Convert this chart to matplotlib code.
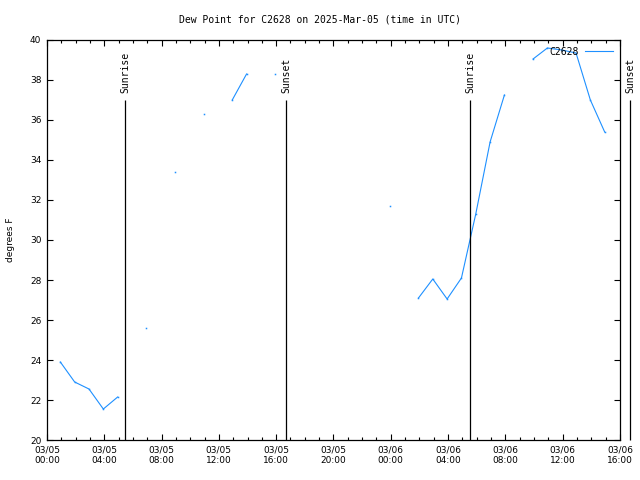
import numpy as np
import pandas as pd
import matplotlib
matplotlib.use("Agg")
import matplotlib.pyplot as plt
import matplotlib.dates as mdates
from matplotlib.lines import Line2D

# Hourly dew point observations (NaN = missing)
obs_times = [
    "2025-03-05 00:56", "2025-03-05 01:56", "2025-03-05 02:56", "2025-03-05 03:56",
    "2025-03-05 04:56", "2025-03-05 05:56", "2025-03-05 06:56", "2025-03-05 07:56",
    "2025-03-05 08:56", "2025-03-05 09:56", "2025-03-05 10:56", "2025-03-05 11:56",
    "2025-03-05 12:56", "2025-03-05 13:56", "2025-03-05 14:56", "2025-03-05 15:56",
    "2025-03-05 16:56", "2025-03-05 23:56", "2025-03-06 00:56", "2025-03-06 01:56",
    "2025-03-06 02:56", "2025-03-06 03:56", "2025-03-06 04:56", "2025-03-06 05:56",
    "2025-03-06 06:56", "2025-03-06 07:56", "2025-03-06 08:56", "2025-03-06 09:56",
    "2025-03-06 10:56", "2025-03-06 11:56", "2025-03-06 12:56", "2025-03-06 13:56",
    "2025-03-06 14:56",
]
dew_point = [
    23.9, 22.9, 22.55, 21.55,
    22.15, np.nan, 25.6, np.nan,
    33.4, np.nan, 36.3, np.nan,
    37.0, 38.3, np.nan, 38.3,
    np.nan, 31.7, np.nan, 27.1,
    28.05, 27.05, 28.1, 31.3,
    34.9, 37.25, np.nan, 39.05,
    39.6, 39.5, 39.35, 37.0,
    35.4,
]

sun_events = ["2025-03-05 05:27", "2025-03-05 16:41", "2025-03-06 05:32", "2025-03-06 16:42"]
sun_labels = ["Sunrise", "Sunset", "Sunrise", "Sunset"]

station = "C2628"
title = "Dew Point for C2628 on 2025-Mar-05 (time in UTC)"

times = pd.to_datetime(obs_times)
events = pd.to_datetime(sun_events)
line_color = "#1E90FF"

fig = plt.figure(figsize=(6.4, 4.8), dpi=100)
ax = fig.add_axes([0.0734, 0.0833, 0.8953, 0.8334])

# line plus 1px dots so isolated readings stay visible
ax.plot(times, dew_point, color=line_color, lw=0.8)
ax.plot(times, dew_point, ls="none", marker="s", markersize=1.1,
        markeredgewidth=0, color=line_color)

for t, lab in zip(events, sun_labels):
    ax.vlines(t, 20, 37, color="black", lw=0.9, clip_on=False)
    ax.text(t, 37.35, lab, rotation=90, ha="center", va="bottom",
            family="DejaVu Sans Mono", fontsize=7, clip_on=False)

ax.set_xlim(pd.Timestamp("2025-03-05 00:00"), pd.Timestamp("2025-03-06 16:00"))
ax.set_ylim(20, 40)
ax.set_yticks(np.arange(20, 41, 2))

ax.xaxis.set_major_locator(mdates.HourLocator(byhour=range(0, 24, 4)))
ax.xaxis.set_minor_locator(mdates.HourLocator())
ax.xaxis.set_major_formatter(mdates.DateFormatter("%m/%d\n%H:%M"))

ax.tick_params(which="both", direction="in", top=True, right=True, width=0.8,
               labelsize=6.5, pad=4)
ax.tick_params(which="major", length=4)
ax.tick_params(which="minor", length=2.5)
for sp in ax.spines.values():
    sp.set_linewidth(0.9)

ax.set_ylabel("degrees F", fontsize=6.5, labelpad=11)
fig.text(0.5, 0.96, title, ha="center", va="center",
         family="DejaVu Sans Mono", fontsize=7)

handle = Line2D([], [], color=line_color, lw=0.8)
ax.legend([handle], [station], loc="upper right", frameon=False, markerfirst=False,
          handlelength=2.9, handletextpad=0.6, borderaxespad=0.3,
          prop={"family": "DejaVu Sans Mono", "size": 7})

fig.savefig("out.png", dpi=100)
